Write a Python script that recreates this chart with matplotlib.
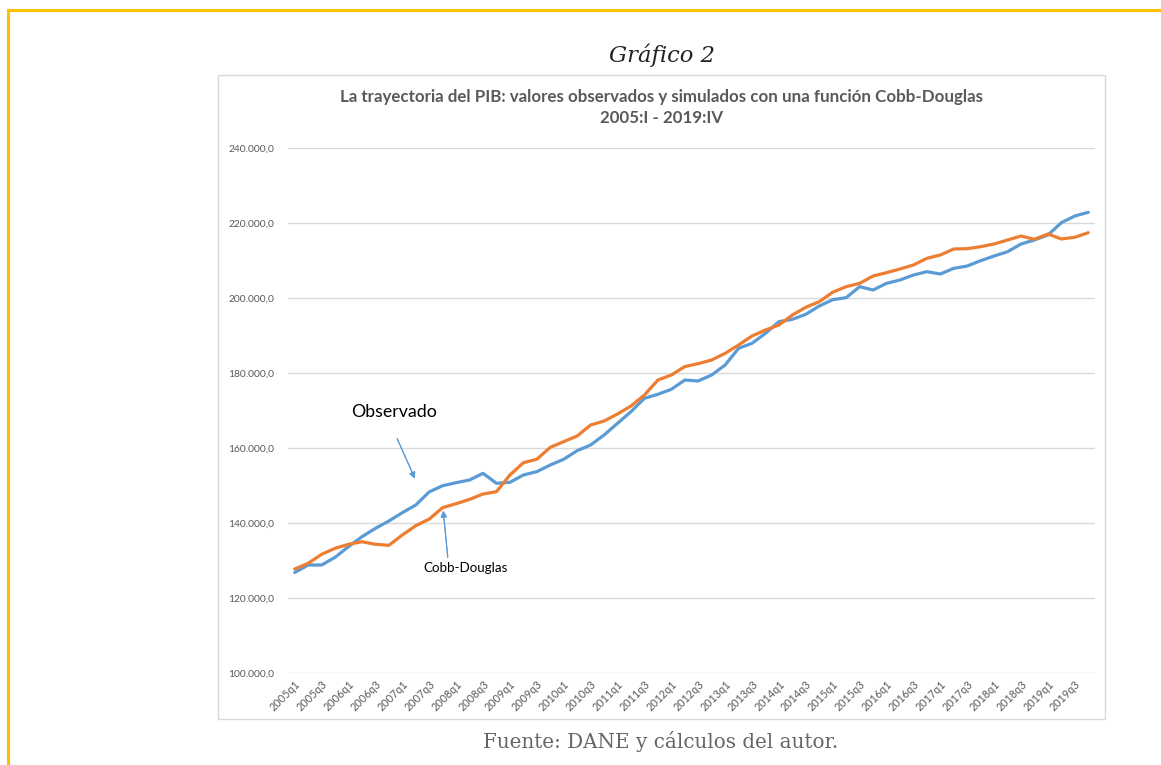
import matplotlib
matplotlib.use("Agg")
import matplotlib.pyplot as plt
from matplotlib.patches import Rectangle
from matplotlib.lines import Line2D

# ---- data -------------------------------------------------------------
years = list(range(2005, 2020))
quarters = [f"{y}q{q}" for y in years for q in range(1, 5)]

observado = [
    126800, 128800, 128800, 130850, 133700, 136350, 138580, 140530, 142750, 144800,
    148300, 149950, 150750, 151470, 153250, 150580, 150850, 152800, 153700, 155470,
    157000, 159290, 160800, 163470, 166580, 169690, 173250, 174320, 175650, 178130,
    177870, 179470, 182130, 186580, 187920, 190580, 193690, 194320, 195650, 197870,
    199550, 200090, 203020, 202130, 203910, 204800, 206130, 207020, 206400, 207910,
    208530, 209950, 211200, 212350, 214400, 215470, 216800, 220090, 221870, 222850,
]
cobb_douglas = [
    127730, 129250, 131650, 133250, 134320, 135000, 134320, 134050, 136800, 139280,
    141050, 144100, 145150, 146300, 147730, 148350, 152800, 156080, 157000, 160180,
    161700, 163200, 166130, 167200, 169070, 171200, 174130, 178130, 179470, 181700,
    182500, 183470, 185250, 187470, 189870, 191470, 192800, 195470, 197520, 199020,
    201550, 203020, 203910, 205870, 206750, 207740, 208800, 210580, 211470, 213070,
    213150, 213690, 214400, 215470, 216530, 215650, 217070, 215740, 216190, 217420,
]
y_ticks = [100000, 120000, 140000, 160000, 180000, 200000, 220000, 240000]

# ---- figure -----------------------------------------------------------
W, H = 1161, 765
fig = plt.figure(figsize=(W / 100, H / 100), dpi=100)
fig.patch.set_facecolor("white")

def fx(px):
    return px / W

def fy(py):
    return 1 - py / H

# yellow frame (top and left)
yellow = "#FFC000"
fig.add_artist(Line2D([fx(8), 1.0], [fy(10), fy(10)], color=yellow, lw=2.2,
                      transform=fig.transFigure))
fig.add_artist(Line2D([fx(8), fx(8)], [fy(10), 0.0], color=yellow, lw=2.2,
                      transform=fig.transFigure))

# chart-area box
fig.add_artist(Rectangle((fx(218), fy(719)), fx(1105) - fx(218), fy(75) - fy(719),
                         transform=fig.transFigure, fill=False,
                         edgecolor="#D9D9D9", lw=1.0))

excel_font = ["Lato", "DejaVu Sans"]
gray = "#595959"

ax = fig.add_axes([fx(288), fy(673), fx(1095) - fx(288), fy(148) - fy(673)])
x = list(range(len(quarters)))
ax.plot(x, observado, color="#5B9BD5", lw=2.3, solid_capstyle="round", zorder=3)
ax.plot(x, cobb_douglas, color="#ED7D31", lw=2.3, solid_capstyle="round", zorder=3)

ax.set_xlim(-0.5, len(quarters) - 0.5)
ax.set_ylim(y_ticks[0], y_ticks[-1])
ax.set_yticks(y_ticks)
ax.set_yticklabels([f"{v:,.1f}".replace(",", "X").replace(".", ",").replace("X", ".")
                    for v in y_ticks], fontsize=7.4, color=gray, family=excel_font)
ax.set_xticks(x[::2])
ax.set_xticklabels(quarters[::2], rotation=45, ha="right", va="top",
                   rotation_mode="anchor", fontsize=7.8, color=gray, family=excel_font)
ax.tick_params(axis="both", length=0)
ax.tick_params(axis="y", pad=10)
ax.tick_params(axis="x", pad=4)
for s in ax.spines.values():
    s.set_visible(False)
ax.grid(axis="y", color="#D9D9D9", lw=1.0)
ax.set_axisbelow(True)

# titles
fig.text(fx(662), fy(55), "Gráfico 2", ha="center", va="center",
         fontsize=16.3, style="italic", family="DejaVu Serif", color="#222222")
fig.text(fx(662), fy(97),
         "La trayectoria del PIB: valores observados y simulados con una función Cobb-Douglas",
         ha="center", va="center", fontsize=12.2, fontweight="bold",
         family=excel_font, color=gray)
fig.text(fx(662), fy(118), "2005:I - 2019:IV", ha="center", va="center",
         fontsize=12.2, fontweight="bold", family=excel_font, color=gray)

# annotations
fig.text(fx(394), fy(412), "Observado", ha="center", va="center",
         fontsize=12.8, family=excel_font, color="#000000")
fig.add_artist(plt.annotate("", xy=(fx(416), fy(481)), xytext=(fx(396), fy(436)),
                            xycoords="figure fraction", textcoords="figure fraction",
                            arrowprops=dict(arrowstyle="-|>", color="#5B9BD5", lw=0.8,
                                            mutation_scale=9)))
fig.text(fx(466), fy(568), "Cobb-Douglas", ha="center", va="center",
         fontsize=9.6, family=excel_font, color="#000000")
fig.add_artist(plt.annotate("", xy=(fx(443), fy(508)), xytext=(fx(448), fy(560)),
                            xycoords="figure fraction", textcoords="figure fraction",
                            arrowprops=dict(arrowstyle="-|>", color="#5B9BD5", lw=0.8,
                                            mutation_scale=9)))

# source
fig.text(fx(661), fy(741), "Fuente: DANE y cálculos del autor.", ha="center",
         va="center", fontsize=14.3, family="DejaVu Serif", color="#666666")

fig.savefig("out.png", dpi=100)
